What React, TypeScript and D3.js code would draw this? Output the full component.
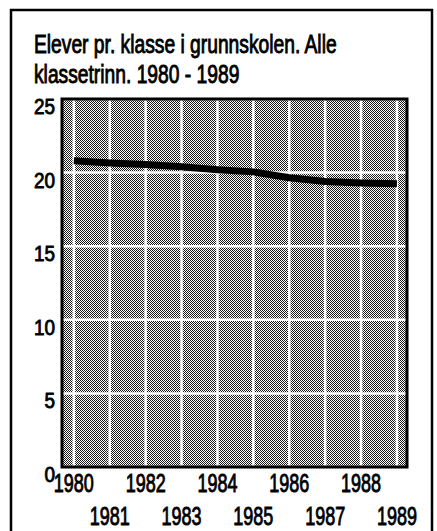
import React from "react";
import * as d3 from "d3";

const years = [1980, 1981, 1982, 1983, 1984, 1985, 1986, 1987, 1988, 1989];
const pupilsPerClass = [20.8, 20.65, 20.55, 20.4, 20.2, 20.05, 19.65, 19.4, 19.3, 19.25];
const yTicks = [0, 5, 10, 15, 20, 25];
const titleLines = ["Elever pr. klasse i grunnskolen. Alle", "klassetrinn. 1980 - 1989"];

const W = 437;
const H = 531;
const plot = { left: 62, top: 99, right: 407, bottom: 467 };
const font = "'Liberation Sans Narrow', 'Arial Narrow', 'Liberation Sans', sans-serif";

// no narrow font installed, so squeeze the glyphs horizontally
const Narrow = ({ x, y, sx, anchor, size, children }: any) => (
  <g transform={`translate(${x},${y}) scale(${sx},1)`}>
    <text x={0} y={0} fontSize={size} textAnchor={anchor} fill="#000" stroke="#000" strokeWidth={0.9}>
      {children}
    </text>
  </g>
);

const App = () => {
  // points sit a bit in from the plot border, like the original
  const x = d3
    .scaleLinear()
    .domain([years[0] - 0.33, years[years.length - 1] + 0.28])
    .range([plot.left, plot.right]);
  const y = d3.scaleLinear().domain([0, 25]).range([plot.bottom, plot.top]);

  const line = d3
    .line<number>()
    .x((_, i) => x(years[i]))
    .y((d) => y(d));

  return (
    <svg
      width={W}
      height={H}
      style={{ position: "absolute", left: 0, top: 0, background: "#fff" }}
      fontFamily={font}
    >
      <defs>
        <pattern id="dots" width={2} height={2} patternUnits="userSpaceOnUse">
          <rect width={2} height={2} fill="#fff" />
          <rect x={0} y={0} width={1} height={1} fill="#1a1a1a" />
          <rect x={1} y={1} width={1} height={1} fill="#1a1a1a" />
        </pattern>
      </defs>

      {/* outer frame */}
      <rect x={11} y={10} width={421} height={H} fill="none" stroke="#000" strokeWidth={2.5} />

      {titleLines.map((t, i) => (
        <Narrow key={t} x={34} y={53 + i * 30} sx={0.77} size={25} anchor="start">
          {t}
        </Narrow>
      ))}

      {/* plot background */}
      <rect
        x={plot.left}
        y={plot.top}
        width={plot.right - plot.left}
        height={plot.bottom - plot.top}
        fill="url(#dots)"
      />

      {/* white grid */}
      {yTicks.map((v) => (
        <line key={"h" + v} x1={plot.left} x2={plot.right} y1={y(v)} y2={y(v)} stroke="#fff" strokeWidth={2.5} />
      ))}
      {years.map((yr) => (
        <line key={"v" + yr} x1={x(yr)} x2={x(yr)} y1={plot.top} y2={plot.bottom} stroke="#fff" strokeWidth={2.5} />
      ))}

      <rect
        x={plot.left}
        y={plot.top}
        width={plot.right - plot.left}
        height={plot.bottom - plot.top}
        fill="none"
        stroke="#000"
        strokeWidth={3}
      />

      <path d={line(pupilsPerClass) ?? ""} fill="none" stroke="#000" strokeWidth={7} />

      {yTicks.map((v) => (
        <Narrow key={"yl" + v} x={55} y={y(v) + 15} sx={0.86} size={22} anchor="end">
          {v}
        </Narrow>
      ))}

      {years.map((yr, i) => (
        <Narrow key={"xl" + yr} x={x(yr)} y={i % 2 === 0 ? 492 : 525} sx={0.72} size={25} anchor="middle">
          {yr}
        </Narrow>
      ))}
    </svg>
  );
};

export default App;
